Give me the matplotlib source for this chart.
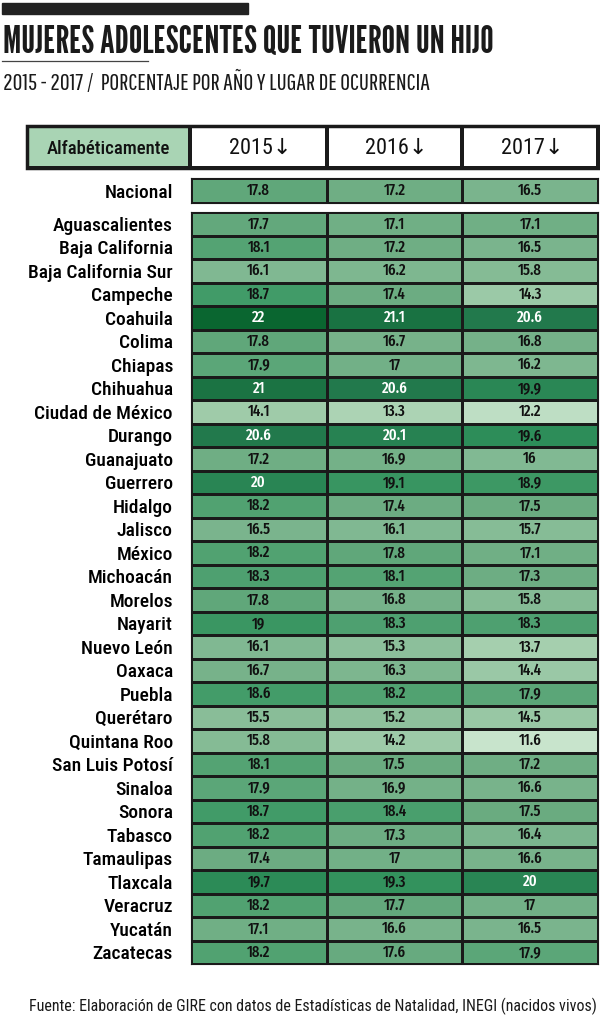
import numpy as np
import matplotlib
matplotlib.use("Agg")
import matplotlib.pyplot as plt
from matplotlib.colors import LinearSegmentedColormap

years = ["2015", "2016", "2017"]
nacional = [17.8, 17.2, 16.5]
states = ["Aguascalientes", "Baja California", "Baja California Sur", "Campeche", "Coahuila",
          "Colima", "Chiapas", "Chihuahua", "Ciudad de México", "Durango", "Guanajuato",
          "Guerrero", "Hidalgo", "Jalisco", "México", "Michoacán", "Morelos", "Nayarit",
          "Nuevo León", "Oaxaca", "Puebla", "Querétaro", "Quintana Roo", "San Luis Potosí",
          "Sinaloa", "Sonora", "Tabasco", "Tamaulipas", "Tlaxcala", "Veracruz", "Yucatán",
          "Zacatecas"]
v2015 = [17.7, 18.1, 16.1, 18.7, 22, 17.8, 17.9, 21, 14.1, 20.6, 17.2, 20, 18.2, 16.5, 18.2,
         18.3, 17.8, 19, 16.1, 16.7, 18.6, 15.5, 15.8, 18.1, 17.9, 18.7, 18.2, 17.4, 19.7,
         18.2, 17.1, 18.2]
v2016 = [17.1, 17.2, 16.2, 17.4, 21.1, 16.7, 17, 20.6, 13.3, 20.1, 16.9, 19.1, 17.4, 16.1,
         17.8, 18.1, 16.8, 18.3, 15.3, 16.3, 18.2, 15.2, 14.2, 17.5, 16.9, 18.4, 17.3, 17,
         19.3, 17.7, 16.6, 17.6]
v2017 = [17.1, 16.5, 15.8, 14.3, 20.6, 16.8, 16.2, 19.9, 12.2, 19.6, 16, 18.9, 17.5, 15.7,
         17.1, 17.3, 15.8, 18.3, 13.7, 14.4, 17.9, 14.5, 11.6, 17.2, 16.6, 17.5, 16.4, 16.6,
         20, 17, 16.5, 17.9]

title = "MUJERES ADOLESCENTES QUE TUVIERON UN HIJO"
subtitle = "2015 - 2017 /  PORCENTAJE POR AÑO Y LUGAR DE OCURRENCIA"
source = "Fuente: Elaboración de GIRE con datos de Estadísticas de Natalidad, INEGI (nacidos vivos)"

values = np.array([v2015, v2016, v2017]).T
nac = np.array([nacional])

cmap = LinearSegmentedColormap.from_list("gire", [
    (0.0, "#c8e4cc"), (0.23, "#a0ccaa"), (0.42, "#82b993"), (0.57, "#6aab80"),
    (0.66, "#479e6c"), (0.76, "#2e8f5a"), (0.86, "#237a4d"), (1.0, "#0a6630")])
vmin, vmax = 11.6, 22

label_font = ["Roboto Condensed", "DejaVu Sans"]
num_font = ["Fira Sans Extra Condensed", "DejaVu Sans"]
plt.rcParams["font.family"] = label_font

W, H = 600, 1025
fig = plt.figure(figsize=(W / 100, H / 100), dpi=100)


def box(x0, y0, x1, y1):
    return [x0 / W, 1 - y1 / H, (x1 - x0) / W, (y1 - y0) / H]


def num_color(v):
    return "white" if v >= 20 else "#111111"


# title block
fig.patches.append(plt.Rectangle((2 / W, 1 - 14 / H), 246 / W, 11 / H,
                                 transform=fig.transFigure, color="#222222"))
fig.text(3 / W, 1 - 53 / H, title, family=["League Gothic", "DejaVu Sans"],
         fontsize=27.2, color="#1a1a1a", va="baseline")
fig.lines.append(plt.Line2D([2 / W, 148 / W], [1 - 61 / H, 1 - 61 / H],
                            transform=fig.transFigure, color="#444444", lw=0.9))
fig.text(3 / W, 1 - 90 / H, subtitle, family=["Pathway Gothic One", "DejaVu Sans"],
         fontsize=17.3, color="#1a1a1a", va="baseline")

# header
hax = fig.add_axes(box(27, 126, 598, 168))
hdr_edges = [0, 163, 300, 435, 571]
hax.pcolormesh(hdr_edges, [0, 1], np.array([[1, 0, 0, 0]]),
               cmap=LinearSegmentedColormap.from_list("h", ["white", "#a9d4b4"]),
               edgecolor="#1a1a1a", linewidth=1.5)
hax.set_xlim(0, 571)
hax.set_ylim(0, 1)
hax.axis("off")
hax.add_patch(plt.Rectangle((0, 0), 571, 1, fill=False, lw=2.5, ec="#1a1a1a", clip_on=False))
hdr_labels = ["Alfabéticamente"] + [y + "\u2193" for y in years]
for i, lab in enumerate(hdr_labels):
    hax.text((hdr_edges[i] + hdr_edges[i + 1]) / 2 + (0 if i == 0 else 2), 0.46, lab,
             ha="center", va="center", fontsize=13.5 if i == 0 else 16,
             fontweight=500 if i == 0 else 400, color="#111111")

# nacional row
nax = fig.add_axes(box(191, 178, 598, 203))
nax.pcolormesh(nac, cmap=cmap, vmin=vmin, vmax=vmax, edgecolor="#1a1a1a", linewidth=0.8)
nax.set_xlim(0, 3)
nax.set_ylim(0, 1)
for j, v in enumerate(nacional):
    nax.text(j + 0.5, 0.5, f"{v:g}", ha="center", va="center", fontsize=11.5,
             family=num_font, fontweight=500, color=num_color(v))
nax.set_xticks([])
nax.set_yticks([0.5])
nax.set_yticklabels(["Nacional"], fontsize=14, fontweight=500)
nax.tick_params(length=0, pad=13)
for s in nax.spines.values():
    s.set_color("#1a1a1a")
    s.set_linewidth(0.8)

# states table
ax = fig.add_axes(box(191, 212, 598, 964))
ax.pcolormesh(values, cmap=cmap, vmin=vmin, vmax=vmax, edgecolor="#1a1a1a", linewidth=0.8)
ax.set_xlim(0, 3)
ax.set_ylim(len(states), 0)
for i in range(len(states)):
    for j in range(3):
        v = values[i, j]
        ax.text(j + 0.5, i + 0.5, f"{v:g}", ha="center", va="center", fontsize=11.5,
                family=num_font, fontweight=500, color=num_color(v))
ax.set_xticks([])
ax.set_yticks(np.arange(len(states)) + 0.5)
ax.set_yticklabels(states, fontsize=14, fontweight=500)
ax.tick_params(length=0, pad=13)
for s in ax.spines.values():
    s.set_color("#1a1a1a")
    s.set_linewidth(0.8)

fig.text(597 / W, 1 - 1011 / H, source, ha="right", va="baseline", fontsize=11.5,
         color="#1a1a1a")

fig.savefig("out.png", dpi=100, facecolor="white")
